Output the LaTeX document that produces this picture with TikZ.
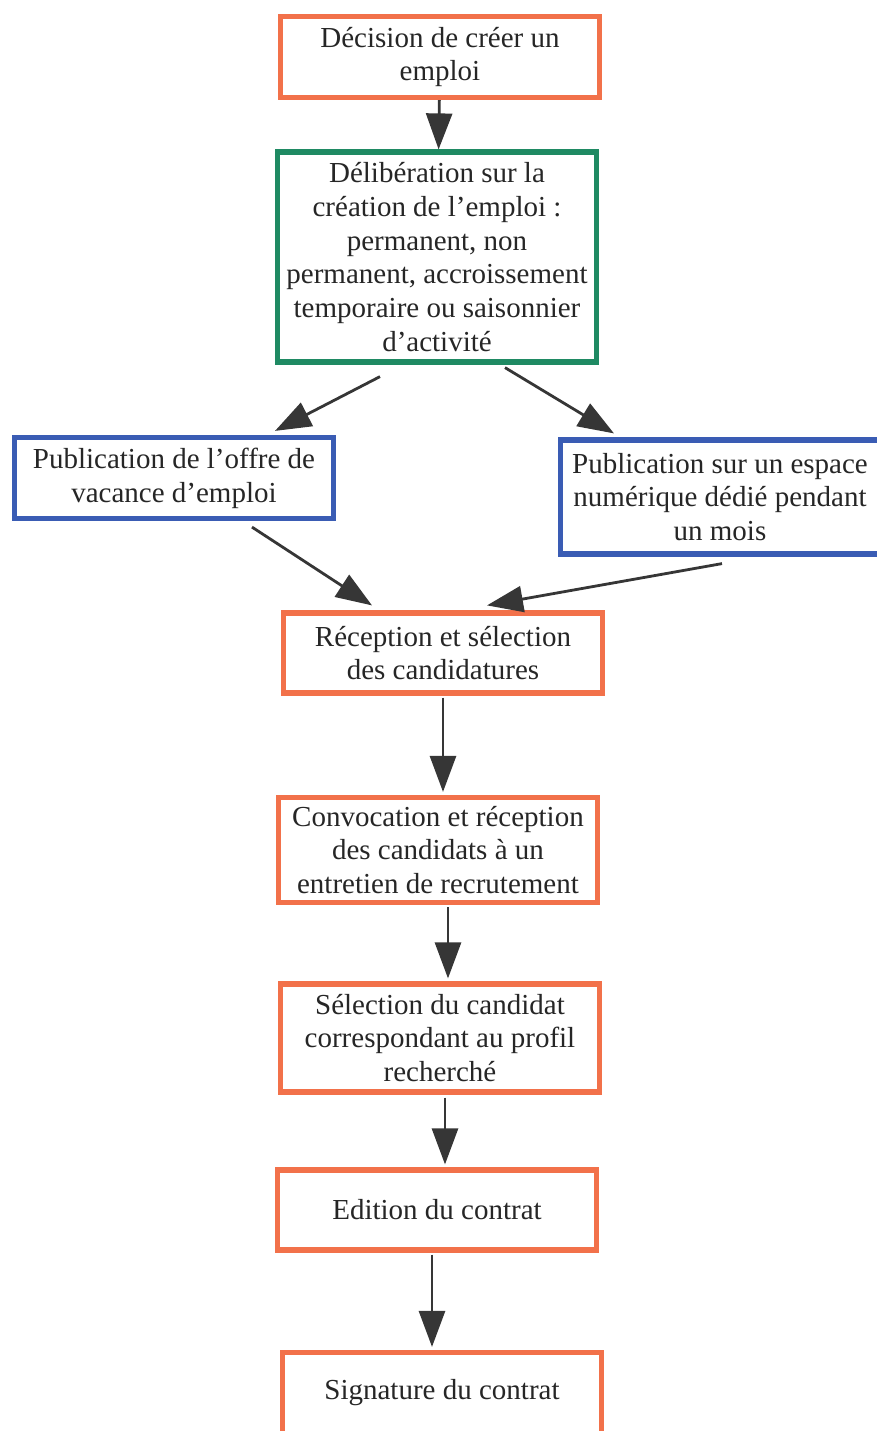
\documentclass[tikz,border=0pt]{standalone}
\usepackage{fontspec}
\setmainfont{Liberation Serif}
\usetikzlibrary{arrows.meta,calc}

\definecolor{orangeligne}{HTML}{F2714A}
\definecolor{vertligne}{HTML}{1F8A63}
\definecolor{bleuligne}{HTML}{3A5CB4}
\definecolor{fleche}{HTML}{363636}

\tikzset{
  etape/.style={draw, rectangle, line width=2.6pt, align=center, inner sep=1pt,
    minimum width=159.5pt, fill=white, text=black!85,
    font=\fontsize{14.5}{16.9}\selectfont},
  orangebox/.style={etape, draw=orangeligne},
  vertbox/.style={etape, draw=vertligne},
  bleubox/.style={etape, draw=bleuligne},
  fl/.style={draw=fleche, line width=1.4pt, -{Triangle[length=18pt,width=13pt]}, fleche}
}

\begin{document}
\begin{tikzpicture}[x=0.5pt,y=-0.5pt]
\useasboundingbox (0,0) rectangle (877,1431);
\node[orangebox, minimum height=40.5pt] (1) at (440,57) {Décision de créer un\\emploi};
\node[vertbox, minimum height=105pt] (2) at (437,257) {Délibération sur la\\création de l’emploi :\\permanent, non\\permanent, accroissement\\temporaire ou saisonnier\\d’activité};
\node[bleubox, minimum height=40.5pt] (3) at (174,478) {Publication de l’offre de\\vacance d’emploi};
\node[bleubox, minimum height=57pt] (4) at (720,497) {Publication sur un espace\\numérique dédié pendant\\un mois};
\node[orangebox, minimum height=40pt] (5) at (443,653) {Réception et sélection\\des candidatures};
\node[orangebox, minimum height=52.5pt] (6) at (438,850) {Convocation et réception\\des candidats à un\\entretien de recrutement};
\node[orangebox, minimum height=54pt] (7) at (440,1038) {Sélection du candidat\\correspondant au profil\\recherché};
\node[orangebox, minimum height=40pt] (8) at (437,1210) {Edition du contrat};
\node[orangebox, minimum height=40.5pt] (9) at (442,1393) {Signature du contrat};

\path[fl] (1) -- (2);
\path[fl] ($(2.south)+(-57,12)$) -- ($(3.north)+(101,-4)$);
\path[fl] ($(2.south)+(68,3)$) -- ($(4.north)+(-106,-4)$);
\path[fl] ($(3.south)+(78,6)$) -- ($(5.north)+(-71,-5)$);
\path[fl] ($(4.south)+(2,7)$) -- ($(5.north)+(44,-5)$);
\path[fl] ($(5.south)+(0,2)$) -- ($(6.north)+(5,-3)$);
\path[fl] ($(6.south)+(10,2)$) -- ($(7.north)+(8,-3)$);
\path[fl] ($(7.south)+(5,3)$) -- ($(8.north)+(8,-3)$);
\path[fl] ($(8.south)+(-5,2)$) -- ($(9.north)+(-10,-3)$);
\end{tikzpicture}
\end{document}
